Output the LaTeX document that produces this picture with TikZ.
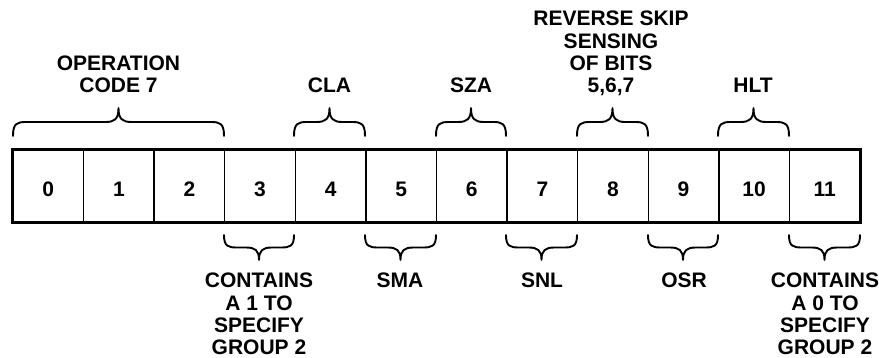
\documentclass[tikz,border=0pt]{standalone}
\usepackage{fontspec}
\setmainfont{Liberation Sans}
\usetikzlibrary{calc}
\newcommand\mybrace[4]{%
 \draw[bracestyle] (#1,#3) .. controls (#1,{#3-0.45*#4}) and ({#1+4},{#3-0.5*#4}) .. ({#1+13},{#3-0.5*#4})
 -- ({(#1+#2)/2-13},{#3-0.5*#4}) .. controls ({(#1+#2)/2-4},{#3-0.5*#4}) and ({(#1+#2)/2},{#3-0.6*#4}) .. ({(#1+#2)/2},{#3-#4})
 .. controls ({(#1+#2)/2},{#3-0.6*#4}) and ({(#1+#2)/2+4},{#3-0.5*#4}) .. ({(#1+#2)/2+13},{#3-0.5*#4})
 -- ({#2-13},{#3-0.5*#4}) .. controls ({#2-4},{#3-0.5*#4}) and (#2,{#3-0.45*#4}) .. (#2,#3);}
\tikzset{
 cell/.style={draw, line width=1.4pt, minimum width=70.58pt, minimum height=72pt, inner sep=0pt,
   text height=22pt, text depth=0pt,
   font=\fontsize{21}{22.3}\selectfont\bfseries},
 lab/.style={inner sep=0pt, align=center, text depth=0pt, font=\fontsize{21}{22.3}\selectfont\bfseries},
 bracestyle/.style={line width=1.9pt, line cap=round, line join=round},
 outerbox/.style={line width=2.6pt}
}
\begin{document}
\begin{tikzpicture}[x=1pt,y=-1pt]
\useasboundingbox (0,0) rectangle (879,358);
\foreach \i in {0,...,11}{
  \node[cell] (b\i) at ({13+70.58*(\i+0.5)},186) {\i};
}
\draw[outerbox] (b0.north west) rectangle (b11.south east);
% top braces
\mybrace{13}{224}{136}{28}
\mybrace{294}{365}{136}{28}
\mybrace{436}{506}{136}{28}
\mybrace{577}{648}{136}{28}
\mybrace{718}{789}{136}{28}
% bottom braces
\mybrace{224}{294}{235}{-25}
\mybrace{365}{436}{235}{-25}
\mybrace{506}{577}{235}{-25}
\mybrace{648}{718}{235}{-25}
\mybrace{789}{860}{235}{-25}
% top labels
\node[lab, anchor=south] (op) at (118.5,93) {OPERATION\\CODE 7};
\node[lab, anchor=south] (cla) at (329.5,93) {CLA};
\node[lab, anchor=south] (sza) at (471,93) {SZA};
\node[lab, anchor=south] (rss) at (611,93) {REVERSE SKIP\\SENSING\\OF BITS\\5,6,7};
\node[lab, anchor=south] (hlt) at (753,93) {HLT};
% bottom labels
\node[lab, anchor=north] (c1) at (259,273) {CONTAINS\\A 1 TO\\SPECIFY\\GROUP 2};
\node[lab, anchor=north] (sma) at (400,273) {SMA};
\node[lab, anchor=north] (snl) at (542,273) {SNL};
\node[lab, anchor=north] (osr) at (684,273) {OSR};
\node[lab, anchor=north] (c0) at (825,273) {CONTAINS\\A 0 TO\\SPECIFY\\GROUP 2};
\end{tikzpicture}
\end{document}
